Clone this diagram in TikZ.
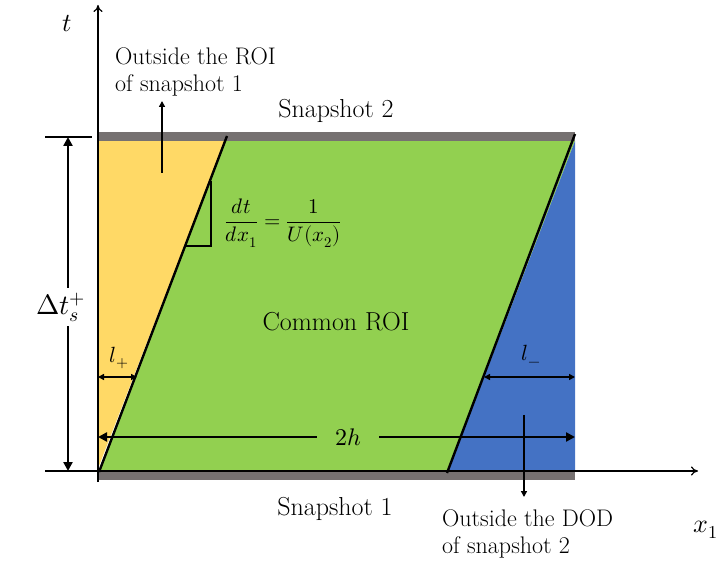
\documentclass[tikz,border=0pt]{standalone}
\usepackage{amsmath}
\usepackage{unicode-math}
\usetikzlibrary{arrows.meta}
\definecolor{roiyellow}{HTML}{FFD966}
\definecolor{roigreen}{HTML}{92D050}
\definecolor{roiblue}{HTML}{4472C4}
\definecolor{bargray}{HTML}{767171}
\tikzset{
  axis/.style={line width=1.2pt,-{To[length=7pt,width=9pt]}},
  edge/.style={line width=2.4pt},
  dimthick/.style={line width=2.6pt,{Triangle[length=9pt,width=9pt]}-{Triangle[length=9pt,width=9pt]}},
  dimthin/.style={line width=1.5pt,{Triangle[length=6pt,width=6pt]}-{Triangle[length=6pt,width=6pt]}},
  pointer/.style={line width=1.5pt,-{Triangle[length=6pt,width=6pt]}},
  lbl/.style={font=\fontsize{24}{27}\selectfont, align=left, inner sep=0pt, anchor=north west},
  biglbl/.style={font=\fontsize{26}{30}\selectfont, inner sep=0pt, anchor=base},
  mathlbl/.style={font=\fontsize{24}{28}\selectfont, inner sep=0pt},
}
\begin{document}
\begin{tikzpicture}[x=1pt,y=-1pt]
\useasboundingbox (0,0) rectangle (718,561);
% regions
\coordinate (bl) at (99,471);
\coordinate (tl) at (97,141);
\coordinate (ty) at (225,141);
\coordinate (tr) at (575,141);
\coordinate (br) at (575,471);
\coordinate (bb) at (448,471);
\fill[roiyellow] (97,471) -- (tl) -- (ty) -- cycle;
\fill[roigreen] (bl) -- (ty) -- (tr) -- (bb) -- cycle;
\fill[roiblue] (bb) -- (tr) -- (br) -- cycle;
% snapshot bars
\fill[bargray] (97,132) rectangle (575,141);
\fill[bargray] (97,471) rectangle (575,480);
% slanted edges
\draw[edge] (99,472) -- (227,136);
\draw[edge] (447,473) -- (575,134);
\draw[line width=1.2pt] (97,471) -- (575,471);
% axes
\coordinate (xo) at (45,471);
\coordinate (xe) at (698,471);
\coordinate (yo) at (98,482);
\coordinate (ye) at (98,5);
\draw[axis] (xo) -- (xe);
\draw[axis] (yo) -- (ye);
\node[mathlbl, font=\fontsize{26}{30}\selectfont] (tlab) at (67,24) {$t$};
\node[mathlbl, font=\fontsize{26}{30}\selectfont] (xlab) at (706,530) {$x_1$};
% delta t dimension
\coordinate (dt1) at (45,137);
\coordinate (dt2) at (92,137);
\draw[line width=2.4pt] (dt1) -- (dt2);
\coordinate (dta) at (68,137);
\coordinate (dtb) at (68,471);
\draw[dimthick] (dta) -- (dtb);
\node[mathlbl, fill=white, inner xsep=2pt, inner ysep=5pt, font=\fontsize{28}{32}\selectfont] (dtlab) at (61,307) {$\Delta t_s^+$};
% slope triangle
\coordinate (s1) at (211,181);
\coordinate (s2) at (211,246);
\coordinate (s3) at (186,246);
\draw[line width=1.2pt] (s1) -- (s2) -- (s3);
\node[mathlbl, font=\fontsize{21}{25}\selectfont] (slope) at (283,223) {$\dfrac{dt}{dx_1}=\dfrac{1}{U(x_2)}$};
% l_+
\coordinate (lp1) at (98,377);
\coordinate (lp2) at (137,377);
\draw[dimthin] (lp1) -- (lp2);
\node[mathlbl, font=\fontsize{22}{26}\selectfont] (lplab) at (119,358) {$l_+$};
% l_-
\coordinate (lm1) at (484,377);
\coordinate (lm2) at (575,377);
\draw[dimthin] (lm1) -- (lm2);
\node[mathlbl, font=\fontsize{22}{26}\selectfont] (lmlab) at (531,356) {$l_-$};
% 2h
\coordinate (h1) at (98,437);
\coordinate (h2) at (575,437);
\draw[dimthick] (h1) -- (h2);
\node[mathlbl, fill=roigreen, minimum width=62pt, minimum height=20pt] (hlab) at (348,437) {$2h$};
% labels
\node[biglbl] (common) at (336,331) {Common ROI};
\node[biglbl] (snap2) at (336,118) {Snapshot 2};
\node[biglbl] (snap1) at (335,515) {Snapshot 1};
\node[lbl] (roi) at (115,48) {Outside the ROI\\of snapshot 1};
\coordinate (roiarr) at (162,173);
\coordinate (roitip) at (162,101);
\draw[pointer] (roiarr) -- (roitip);
\node[lbl] (dod) at (442,510) {Outside the DOD\\of snapshot 2};
\coordinate (dodarr) at (524,415);
\coordinate (dodtip) at (524,497);
\draw[pointer] (dodarr) -- (dodtip);
\end{tikzpicture}
\end{document}
